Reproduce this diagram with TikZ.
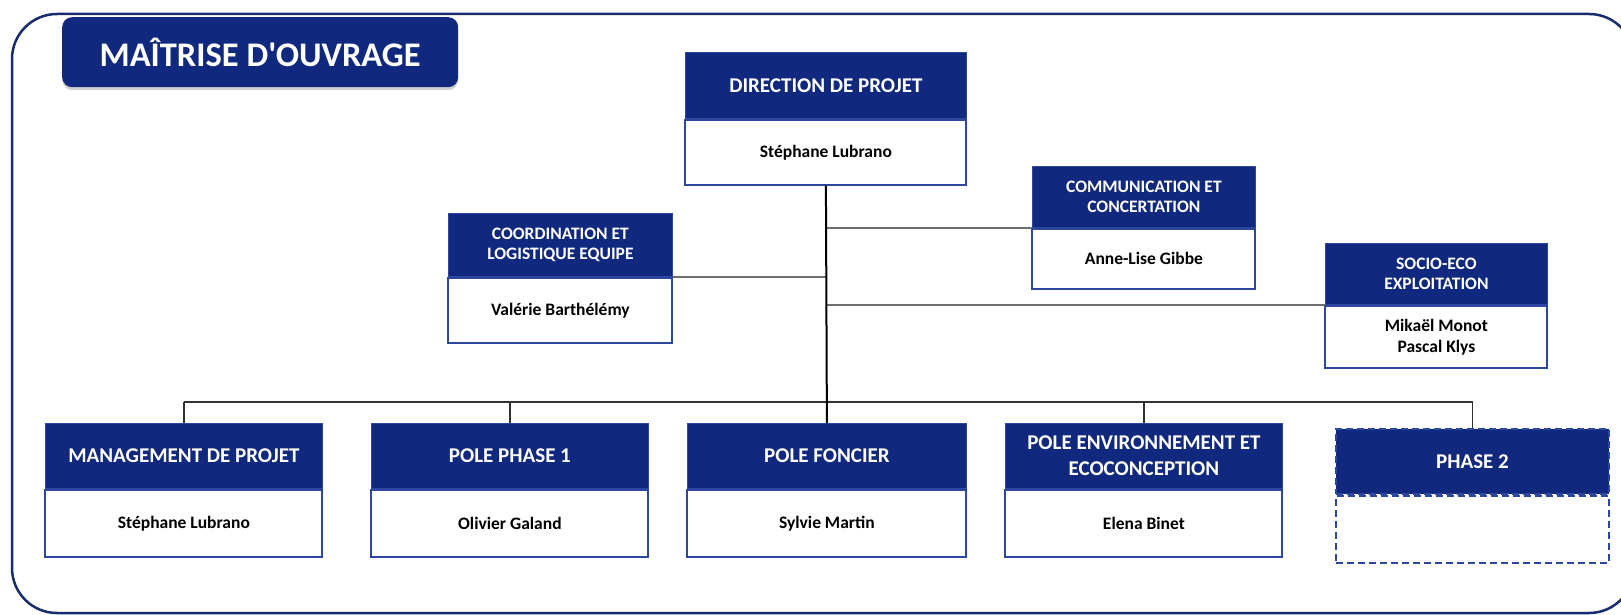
\documentclass[tikz,border=0pt]{standalone}
\usepackage{fontspec}
\setmainfont{Carlito}
\newfontfamily\plainfont{Carlito}
\usetikzlibrary{shadows}
\definecolor{navy}{RGB}{16,40,126}
\definecolor{edgec}{RGB}{45,70,160}
\definecolor{framec}{RGB}{25,45,110}
\definecolor{branchc}{RGB}{110,110,110}
\definecolor{busc}{RGB}{50,50,50}
\tikzset{
  hdr/.style={fill=navy, draw=edgec, line width=0.8pt, text=white, align=center,
    anchor=north west, inner sep=0pt, font=\fontsize{21}{26}\selectfont\bfseries},
  smallhdr/.style={hdr, font=\fontsize{17.5}{20}\selectfont\bfseries},
  body/.style={fill=white, draw=edgec, line width=2pt, text=black, align=center,
    anchor=north, inner sep=0pt, font=\fontsize{17.5}{21}\selectfont\bfseries},
  dashbox/.style={dash pattern=on 7pt off 4pt, draw=edgec, line width=2pt},
  trunk/.style={draw=black, line width=2pt},
  branch/.style={draw=branchc, line width=2.2pt},
  busline/.style={draw=busc, line width=1.5pt},
  framebox/.style={draw=framec, line width=2.5pt, rounded corners=45pt},
  titlebox/.style={fill=navy, text=white, rounded corners=10pt, anchor=north west,
    inner sep=0pt, minimum width=396pt, minimum height=70pt,
    font=\plainfont\fontsize{34.5}{40}\selectfont\bfseries,
    drop shadow={shadow xshift=0pt, shadow yshift=-3pt, opacity=0.35}}
}
\begin{document}
\begin{tikzpicture}[x=1pt,y=-1pt]
\clip (0,0) rectangle (1621,615);
\fill[white] (0,0) rectangle (1621,615);
\draw[framebox] (12,14) rectangle (1634,613);
\node[titlebox] (title) at (62,17) {MAÎTRISE D'OUVRAGE};

% top
\node[hdr, minimum width=281pt, minimum height=66pt] (dirH) at (685,52) {DIRECTION DE PROJET};
\node[body, minimum width=281pt, minimum height=65pt] (dirB) at (dirH.south) {Stéphane Lubrano};

\node[smallhdr, minimum width=224pt, minimum height=63pt] (coordH) at (448,213) {COORDINATION ET\\LOGISTIQUE EQUIPE};
\node[body, minimum width=224pt, minimum height=65pt] (coordB) at (coordH.south) {Valérie Barthélémy};

\node[smallhdr, minimum width=223pt, minimum height=61pt] (commH) at (1032,166) {COMMUNICATION ET\\CONCERTATION};
\node[body, minimum width=223pt, minimum height=60pt] (commB) at (commH.south) {Anne-Lise Gibbe};

\node[smallhdr, minimum width=222pt, minimum height=61pt] (socioH) at (1325,243) {SOCIO-ECO\\EXPLOITATION};
\node[body, minimum width=222pt, minimum height=62pt] (socioB) at (socioH.south) {Mikaël Monot\\Pascal Klys};

% bottom row
\node[hdr, minimum width=277pt, minimum height=65pt] (mgmtH) at (45,423) {MANAGEMENT DE PROJET};
\node[body, minimum width=277pt, minimum height=67pt] (mgmtB) at (mgmtH.south) {Stéphane Lubrano};

\node[hdr, minimum width=277pt, minimum height=65pt] (p1H) at (371,423) {POLE PHASE 1};
\node[body, minimum width=277pt, minimum height=67pt] (p1B) at (p1H.south) {Olivier Galand};

\node[hdr, minimum width=279pt, minimum height=65pt] (foncH) at (687,423) {POLE FONCIER};
\node[body, minimum width=279pt, minimum height=67pt] (foncB) at (foncH.south) {Sylvie Martin};

\node[hdr, minimum width=277pt, minimum height=65pt] (envH) at (1005,423) {POLE ENVIRONNEMENT ET\\ECOCONCEPTION};
\node[body, minimum width=277pt, minimum height=67pt] (envB) at (envH.south) {Elena Binet};

\node[hdr, dashbox, minimum width=273pt, minimum height=65pt] (p2H) at (1335,428) {PHASE 2};
\node[body, dashbox, minimum width=273pt, minimum height=67pt] (p2B) at (p2H.south) {};

% connectors
\coordinate (bus) at (825.5,402);
\draw[branch] (coordH.south east) -- (coordH.south east -| dirB.south);
\draw[branch] (commH.south west -| dirB.south) -- (commH.south west);
\draw[branch] (socioH.south west -| dirB.south) -- (socioH.south west);
\draw[busline] (mgmtH.north |- bus) -- (p2H.north |- bus);
\foreach \n in {mgmtH,p1H,envH,p2H}
  \draw[busline] (\n.north |- bus) -- (\n.north);
\draw[trunk] (dirB.south) -- (foncH.north);
\end{tikzpicture}
\end{document}
